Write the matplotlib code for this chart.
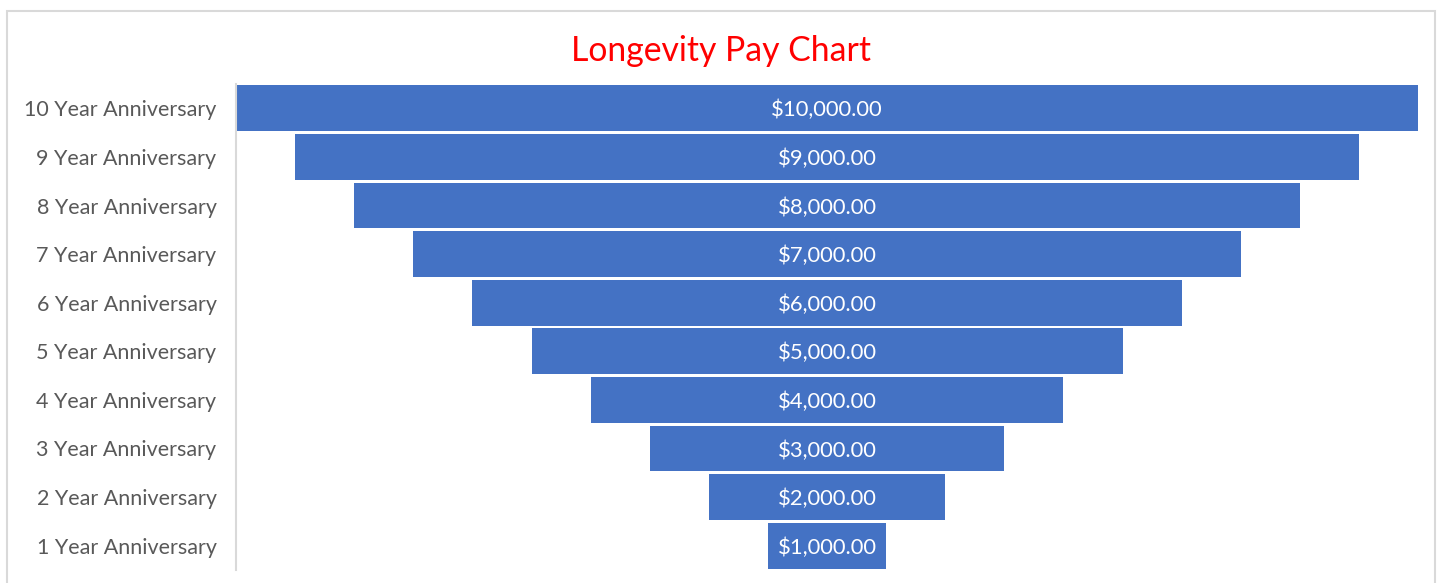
import matplotlib
matplotlib.use("Agg")
import matplotlib.pyplot as plt
from matplotlib.patches import Rectangle
from matplotlib.transforms import offset_copy

categories = [f"{i} Year Anniversary" for i in range(1, 11)]
values = [1000, 2000, 3000, 4000, 5000, 6000, 7000, 8000, 9000, 10000]
title = "Longevity Pay Chart"

plt.rcParams['font.family'] = ['Lato', 'DejaVu Sans']

W, H = 1440, 583
fig = plt.figure(figsize=(W / 100, H / 100), dpi=100)
fig.patch.set_facecolor('white')
fig.patches.append(Rectangle((7 / W, -0.01), (1435 - 7) / W, 1 - 11 / H + 0.01,
                             transform=fig.transFigure, fill=False,
                             edgecolor='#D9D9D9', linewidth=1.5))

ax = fig.add_axes([236 / W, 1 - 570 / H, (1418 - 236) / W, (570 - 84) / H])
y = list(range(len(values)))
lefts = [-v / 2 for v in values]
bars = ax.barh(y, values, left=lefts, height=0.945, color='#4472C4')
label_tr = offset_copy(ax.transData, fig=fig, x=0, y=-2, units='dots')
for b, v in zip(bars, values):
    ax.text(0, b.get_y() + b.get_height() / 2, f"${v:,.2f}", ha='center', va='center',
            color='white', fontsize=15.8, transform=label_tr)
ax.set_xlim(-5000, 5000)
ax.set_ylim(-0.5, len(values) - 0.5)
ax.set_yticks(y)
ax.set_yticklabels(categories, fontsize=15.5, color='#595959')
ax.tick_params(axis='y', length=0, pad=14)
ax.set_xticks([])
for s in ['top', 'right', 'bottom']:
    ax.spines[s].set_visible(False)
ax.spines['left'].set_color('#D9D9D9')
ax.spines['left'].set_linewidth(1.5)
fig.text(721 / W, 1 - 51 / H, title, ha='center', va='center', color='#FF0000', fontsize=24.3)

fig.savefig('out.png', dpi=100)
